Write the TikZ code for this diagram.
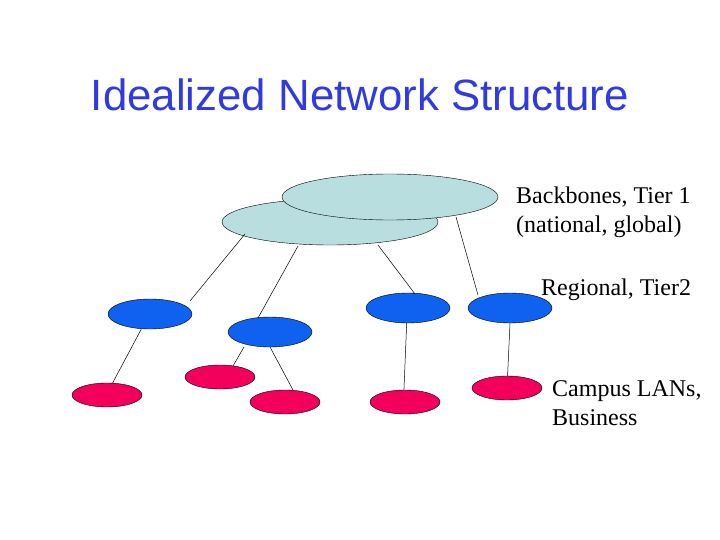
\documentclass[tikz,border=0pt]{standalone}
\usepackage{fontspec}
\setmainfont{Liberation Serif}
\newfontfamily\titlefont{Liberation Sans}
\begin{document}
\begin{tikzpicture}[x=1pt,y=-1pt,
  bb/.style={ellipse,draw=black,fill=bbfill,minimum width=216pt,minimum height=46pt,inner sep=0pt},
  reg/.style={ellipse,draw=black,fill=regfill,minimum width=84pt,minimum height=30pt,inner sep=0pt},
  lan/.style={ellipse,draw=black,fill=lanfill,minimum width=70pt,minimum height=24pt,inner sep=0pt},
  lbl/.style={anchor=west,font=\fontsize{24}{29}\selectfont,align=left,inner sep=0pt},
  ln/.style={draw=black,line width=0.5pt}]
\usetikzlibrary{shapes.geometric}
\definecolor{bbfill}{HTML}{B8DEE0}
\definecolor{regfill}{HTML}{0F62F0}
\definecolor{lanfill}{HTML}{F2005C}
\definecolor{titleblue}{HTML}{2F3BE0}
\useasboundingbox (0,0) rectangle (720,540);
\node[font=\titlefont\fontsize{43.8}{50}\selectfont,text=titleblue] (title) at (360,95) {Idealized Network Structure};
\node[bb] (bb1) at (330,222) {};
\node[bb] (bb2) at (390,197) {};
\node[reg] (A) at (150,314) {};
\node[reg] (B) at (270,332) {};
\node[reg] (C) at (408,308) {};
\node[reg] (D) at (510,308) {};
\node[lan] (r1) at (107,395) {};
\node[lan] (r2) at (220,377) {};
\node[lan] (r3) at (285,402) {};
\node[lan] (r4) at (405,402) {};
\node[lan] (r5) at (507,388) {};
\coordinate (p1) at (245,234); \coordinate (q1) at (190,301);
\coordinate (p2) at (298,246); \coordinate (q2) at (258,318);
\coordinate (p3) at (378,245); \coordinate (q3) at (415,294);
\coordinate (p4) at (456,217); \coordinate (q4) at (478,295);
\coordinate (p5) at (244,347); \coordinate (q5) at (233,366);
\coordinate (p6) at (270,347); \coordinate (q6) at (293,390);
\draw[ln] (p1) -- (q1);
\draw[ln] (p2) -- (q2);
\draw[ln] (p3) -- (q3);
\draw[ln] (p4) -- (q4);
\draw[ln] (A.240) -- (r1.65);
\draw[ln] (p5) -- (q5);
\draw[ln] (p6) -- (q6);
\draw[ln] (C.265) -- (r4.95);
\draw[ln] (D.270) -- (r5);
\node[lbl] (l1) at (516,212) {Backbones, Tier 1\\(national, global)};
\node[lbl] (l2) at (541,290) {Regional, Tier2};
\node[lbl] (l3) at (552,403) {Campus LANs,\\Business};
\end{tikzpicture}
\end{document}
